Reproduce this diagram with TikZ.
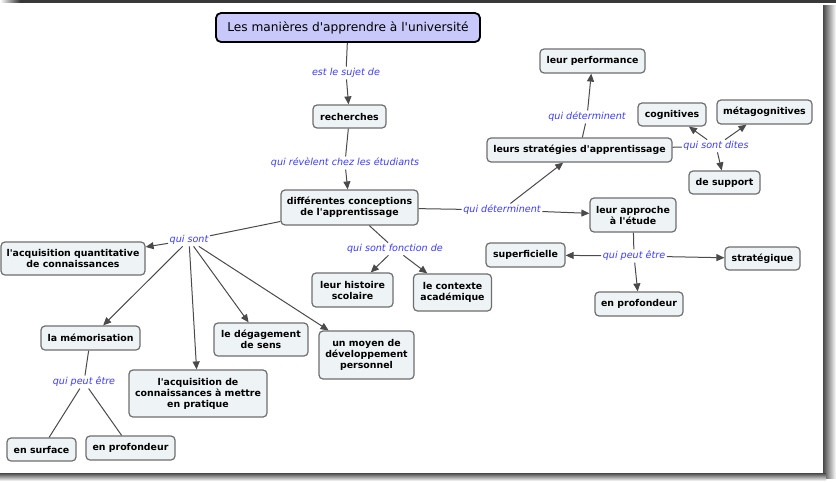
\documentclass[tikz,border=0pt]{standalone}
\usepackage{fontspec}
\setmainfont{DejaVu Sans}
\usetikzlibrary{arrows.meta}
\definecolor{boxfill}{HTML}{EEF3F5}
\definecolor{boxline}{HTML}{6E6E6E}
\definecolor{titlefill}{HTML}{C8C8FA}
\definecolor{linkblue}{HTML}{3C3CFF}
\definecolor{wire}{HTML}{4A4A4A}
% straight apostrophe
\newcommand{\sq}{\textquotesingle}
\begin{document}
\begin{tikzpicture}[x=1pt,y=-1pt,
  concept/.style={draw=boxline, line width=1.2pt, rounded corners=4pt, fill=boxfill,
    font=\bfseries\fontsize{9.4}{11}\selectfont, align=center, inner sep=2pt},
  headline/.style={draw=black, line width=1.8pt, rounded corners=5pt, fill=titlefill,
    font=\fontsize{12.2}{14}\selectfont, inner sep=2pt},
  linklab/.style={font=\itshape\fontsize{9.6}{11}\selectfont, text=linkblue, inner sep=1.5pt},
  wireline/.style={draw=wire, line width=1pt},
  arrowline/.style={wireline, -{Triangle[length=8pt,width=7pt]}},
]
\useasboundingbox (0,0) rectangle (836,482);
\fill[white] (0,0) rectangle (836,482);
% window frame: top bar and drop shadows
\fill[black!78] (20,0) rectangle (836,2.5);
\shade[left color=white, right color=black!78] (0,0) rectangle (20,2.5);
\shade[left color=black!72, right color=white] (823,5) rectangle (836,478);
\shade[top color=black!72, bottom color=white] (0,473) rectangle (826,481);

% concepts
\node[headline, minimum width=264, minimum height=29] (title) at (348,27.5) {Les manières d\sq apprendre à l\sq université};
\node[concept, minimum width=73, minimum height=23] (rech) at (349.5,116.5) {recherches};
\node[concept, minimum width=137, minimum height=35] (diff) at (349.5,207.5) {différentes conceptions\\de l\sq apprentissage};
\node[concept, minimum width=144, minimum height=33] (acqq) at (73,258.5) {l\sq acquisition quantitative\\de connaissances};
\node[concept, minimum width=99, minimum height=24] (memo) at (90.5,338) {la mémorisation};
\node[concept, minimum width=138, minimum height=47] (acqp) at (198,393.5) {l\sq acquisition de\\connaissances à mettre\\en pratique};
\node[concept, minimum width=94, minimum height=33] (degag) at (261,339.5) {le dégagement\\de sens};
\node[concept, minimum width=95, minimum height=48] (moyen) at (366.5,355) {un moyen de\\développement\\personnel};
\node[concept, minimum width=81, minimum height=34] (hist) at (352.5,290) {leur histoire\\scolaire};
\node[concept, minimum width=78, minimum height=37] (ctx) at (452.5,292.5) {le contexte\\académique};
\node[concept, minimum width=69, minimum height=23] (surf) at (41.5,449.5) {en surface};
\node[concept, minimum width=89, minimum height=24] (profl) at (130.5,448) {en profondeur};
\node[concept, minimum width=105, minimum height=24] (perf) at (592.5,61) {leur performance};
\node[concept, minimum width=185, minimum height=24] (strat) at (579.5,150) {leurs stratégies d\sq apprentissage};
\node[concept, minimum width=68, minimum height=23] (cogn) at (672,114.5) {cognitives};
\node[concept, minimum width=95, minimum height=24] (meta) at (764.5,112) {métagognitives};
\node[concept, minimum width=71, minimum height=23] (supp) at (724.5,182.5) {de support};
\node[concept, minimum width=86, minimum height=34] (appr) at (633,215) {leur approche\\à l\sq étude};
\node[concept, minimum width=79, minimum height=24] (superf) at (525.5,255) {superficielle};
\node[concept, minimum width=75, minimum height=23] (strg) at (762.5,258.5) {stratégique};
\node[concept, minimum width=88, minimum height=24] (profr) at (639,304) {en profondeur};

% linking phrases
\node[linklab] (l1) at (346,73) {est le sujet de};
\node[linklab] (l2) at (345,163) {qui révèlent chez les étudiants};
\node[linklab] (l3) at (189,240) {qui sont};
\node[linklab] (l4) at (395,249) {qui sont fonction de};
\node[linklab] (l5) at (84,382) {qui peut être};
\node[linklab] (l6) at (502,210) {qui déterminent};
\node[linklab] (l7) at (587,117) {qui déterminent};
\node[linklab] (l8) at (716,146) {qui sont dites};
\node[linklab] (l9) at (634,256) {qui peut être};

% connectors
\draw[wireline] (title) -- (l1);
\draw[arrowline] (l1) -- (rech);
\draw[wireline] (rech) -- (l2);
\draw[arrowline] (l2) -- (diff);

\draw[wireline] (diff) -- (l3);
\draw[arrowline] (l3) -- (acqq);
\draw[arrowline] (l3) -- (memo);
\draw[arrowline] (l3) -- (acqp);
\draw[arrowline] (l3) -- (degag);
\draw[arrowline] (l3) -- (moyen);

\draw[wireline] (diff) -- (l4);
\draw[arrowline] (l4) -- (hist);
\draw[arrowline] (l4) -- (ctx);

\draw[wireline] (memo) -- (l5);
\draw[wireline] (l5) -- (surf);
\draw[wireline] (l5) -- (profl);

\draw[wireline] (diff) -- (l6);
\draw[arrowline] (l6) -- (strat);
\draw[arrowline] (l6) -- (appr);

\draw[wireline] (strat) -- (l7);
\draw[arrowline] (l7) -- (perf);

\draw[wireline] (strat) -- (l8);
\draw[arrowline] (l8) -- (cogn);
\draw[arrowline] (l8) -- (meta);
\draw[arrowline] (l8) -- (supp);

\draw[wireline] (appr) -- (l9);
\draw[arrowline] (l9) -- (superf);
\draw[arrowline] (l9) -- (strg);
\draw[arrowline] (l9) -- (profr);
\end{tikzpicture}
\end{document}
